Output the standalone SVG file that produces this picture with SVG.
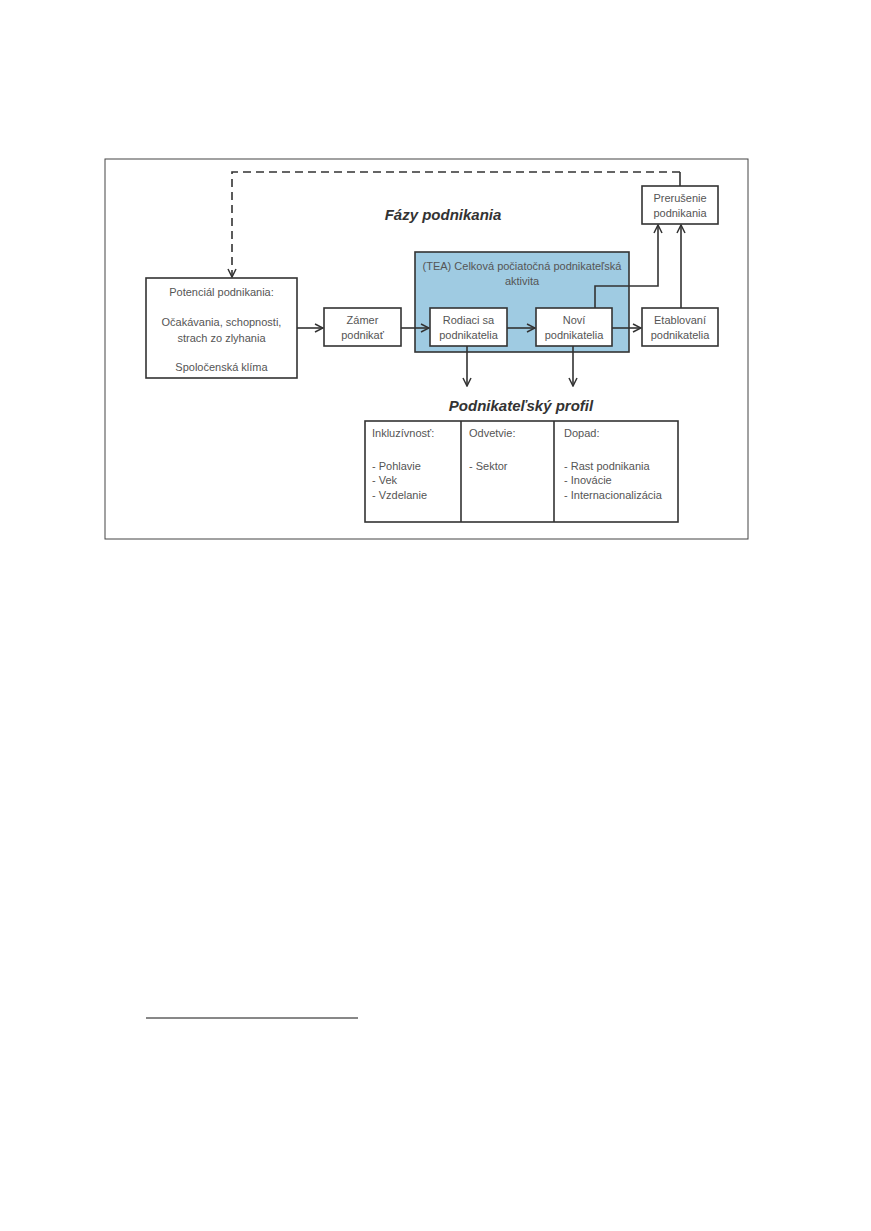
<svg xmlns="http://www.w3.org/2000/svg" width="871" height="1231" viewBox="0 0 871 1231">
<style>
.box{fill:#fff;stroke:#333;stroke-width:1.6}
.t{font-family:"Liberation Sans",Arial,sans-serif;font-size:11px;fill:#555}
.ti{font-family:"Liberation Sans",Arial,sans-serif;font-size:15px;font-weight:bold;font-style:italic;fill:#333}
.c{stroke:#333;stroke-width:1.6;fill:none}
</style>
<defs>
<marker id="ar" viewBox="0 0 10 10" refX="9" refY="5" markerWidth="10" markerHeight="10" markerUnits="userSpaceOnUse" orient="auto">
<path d="M1,1 L9,5 L1,9" fill="none" stroke="#333" stroke-width="1.5"/>
</marker>
</defs>
<rect width="871" height="1231" fill="#fff"/>
<rect id="frame" x="105" y="159" width="643" height="380" fill="none" stroke="#444" stroke-width="1"/>
<g id="tea">
<rect x="415" y="252" width="214" height="100" fill="#9fcbe2" stroke="#333" stroke-width="1.6"/>
<text class="t" x="522" y="270" text-anchor="middle">(TEA) Celková počiatočná podnikateľská</text>
<text class="t" x="522" y="285" text-anchor="middle">aktivita</text>
</g>
<text class="ti" x="443" y="220" text-anchor="middle">Fázy podnikania</text>
<g id="potencial">
<rect class="box" x="146" y="278" width="151" height="100"/>
<text class="t" x="221.5" y="296" text-anchor="middle">Potenciál podnikania:</text>
<text class="t" x="221.5" y="326" text-anchor="middle">Očakávania, schopnosti,</text>
<text class="t" x="221.5" y="342" text-anchor="middle">strach zo zlyhania</text>
<text class="t" x="221.5" y="371" text-anchor="middle">Spoločenská klíma</text>
</g>
<g id="zamer">
<rect class="box" x="324" y="308" width="77" height="38"/>
<text class="t" x="362.5" y="324" text-anchor="middle">Zámer</text>
<text class="t" x="362.5" y="339" text-anchor="middle">podnikať</text>
</g>
<g id="rodiaci">
<rect class="box" x="430" y="308" width="77" height="38"/>
<text class="t" x="468.5" y="324" text-anchor="middle">Rodiaci sa</text>
<text class="t" x="468.5" y="339" text-anchor="middle">podnikatelia</text>
</g>
<g id="novi">
<rect class="box" x="536" y="308" width="76" height="38"/>
<text class="t" x="574" y="324" text-anchor="middle">Noví</text>
<text class="t" x="574" y="339" text-anchor="middle">podnikatelia</text>
</g>
<g id="etablovani">
<rect class="box" x="642" y="308" width="76" height="38"/>
<text class="t" x="680" y="324" text-anchor="middle">Etablovaní</text>
<text class="t" x="680" y="339" text-anchor="middle">podnikatelia</text>
</g>
<g id="prerusenie">
<rect class="box" x="642" y="186" width="76" height="38"/>
<text class="t" x="680" y="202" text-anchor="middle">Prerušenie</text>
<text class="t" x="680" y="217" text-anchor="middle">podnikania</text>
</g>
<text class="ti" x="521" y="411" text-anchor="middle">Podnikateľský profil</text>
<g id="profil">
<rect class="box" x="365" y="421" width="313" height="101"/>
<line class="c" x1="461" y1="421" x2="461" y2="522"/>
<line class="c" x1="554" y1="421" x2="554" y2="522"/>
<text class="t" x="372" y="437">Inkluzívnosť:</text>
<text class="t" x="372" y="470">- Pohlavie</text>
<text class="t" x="372" y="484">- Vek</text>
<text class="t" x="372" y="499">- Vzdelanie</text>
<text class="t" x="469" y="437">Odvetvie:</text>
<text class="t" x="469" y="470">- Sektor</text>
<text class="t" x="564" y="437">Dopad:</text>
<text class="t" x="564" y="470">- Rast podnikania</text>
<text class="t" x="564" y="484">- Inovácie</text>
<text class="t" x="564" y="499">- Internacionalizácia</text>
</g>
<g id="connectors">
<path class="c" d="M680,186 V172" />
<path class="c" d="M680,172 H232 V277" stroke-dasharray="8,5" marker-end="url(#ar)"/>
<path class="c" d="M297,328 H323" marker-end="url(#ar)"/>
<path class="c" d="M401,328 H429" marker-end="url(#ar)"/>
<path class="c" d="M507,328 H535" marker-end="url(#ar)"/>
<path class="c" d="M612,328 H641" marker-end="url(#ar)"/>
<path class="c" d="M595,308 V286 H658 V225" marker-end="url(#ar)"/>
<path class="c" d="M681,308 V225" marker-end="url(#ar)"/>
<path class="c" d="M467,346 V386" marker-end="url(#ar)"/>
<path class="c" d="M573,346 V386" marker-end="url(#ar)"/>
</g>
<line x1="146" y1="1018" x2="358" y2="1018" stroke="#111" stroke-width="1"/>
</svg>
